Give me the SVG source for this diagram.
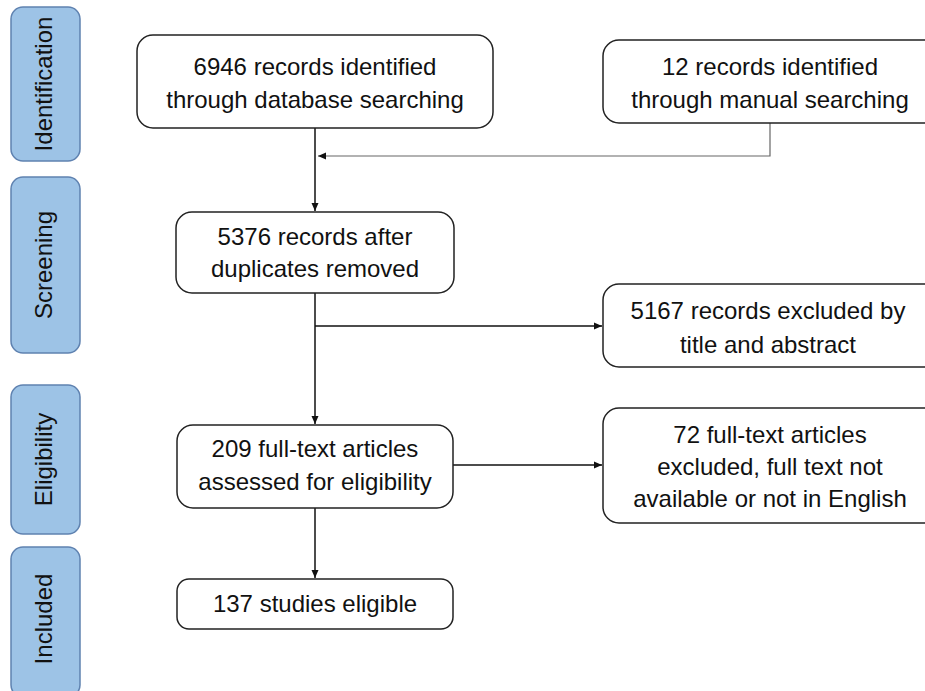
<svg xmlns="http://www.w3.org/2000/svg" width="925" height="691" viewBox="0 0 925 691">
<defs>
<style>
.stage rect{fill:#9DC3E6;stroke:#5F82B0;stroke-width:1.5}
.stage text{font-family:"Liberation Sans",Arial,sans-serif;font-size:24px;fill:#111;text-anchor:middle}
.node rect{fill:#fff;stroke:#222;stroke-width:1.5}
.node text{font-family:"Liberation Sans",Arial,sans-serif;font-size:24px;fill:#111;text-anchor:middle}
.conn path{fill:none;stroke:#111;stroke-width:1.5}
.conn path.grey{stroke:#666;stroke-width:1.2}
</style>
<marker id="ah" markerWidth="10" markerHeight="10" refX="9" refY="5" orient="auto" markerUnits="userSpaceOnUse">
<path d="M1,1.5 L9,5 L1,8.5 Z" fill="#111"/>
</marker>
</defs>
<rect width="925" height="691" fill="#fff"/>

<g id="stage-identification" class="stage">
<rect x="11" y="7" width="69" height="154" rx="12"/>
<text transform="translate(52,84) rotate(-90)">Identification</text>
</g>
<g id="stage-screening" class="stage">
<rect x="11" y="177" width="69" height="176" rx="12"/>
<text transform="translate(52,265) rotate(-90)">Screening</text>
</g>
<g id="stage-eligibility" class="stage">
<rect x="11" y="385" width="69" height="149" rx="12"/>
<text transform="translate(52,459.5) rotate(-90)">Eligibility</text>
</g>
<g id="stage-included" class="stage">
<rect x="11" y="547" width="69" height="150" rx="12"/>
<text transform="translate(52,619) rotate(-90)">Included</text>
</g>

<g id="connectors" class="conn">
<path d="M315,128 V211" marker-end="url(#ah)"/>
<path class="grey" d="M770,123 V156 H318" marker-end="url(#ah)"/>
<path d="M315,293 V424" marker-end="url(#ah)"/>
<path d="M315,326 H602" marker-end="url(#ah)"/>
<path d="M453,465 H602" marker-end="url(#ah)"/>
<path d="M315,508 V578" marker-end="url(#ah)"/>
</g>

<g id="n-database" class="node">
<rect x="137" y="35" width="356" height="93" rx="16"/>
<text x="315" y="75">6946 records identified</text>
<text x="315" y="108">through database searching</text>
</g>
<g id="n-manual" class="node">
<rect x="603" y="40" width="340" height="83" rx="16"/>
<text x="770" y="75">12 records identified</text>
<text x="770" y="108">through manual searching</text>
</g>
<g id="n-duplicates" class="node">
<rect x="176" y="212" width="278" height="81" rx="16"/>
<text x="315" y="245">5376 records after</text>
<text x="315" y="277">duplicates removed</text>
</g>
<g id="n-excluded-title" class="node">
<rect x="603" y="284" width="340" height="83" rx="16"/>
<text x="768" y="319">5167 records excluded by</text>
<text x="768" y="353">title and abstract</text>
</g>
<g id="n-fulltext" class="node">
<rect x="177" y="425" width="276" height="83" rx="16"/>
<text x="315" y="457">209 full-text articles</text>
<text x="315" y="490">assessed for eligibility</text>
</g>
<g id="n-excluded-fulltext" class="node">
<rect x="603" y="408" width="340" height="115" rx="16"/>
<text x="770" y="443">72 full-text articles</text>
<text x="770" y="475">excluded, full text not</text>
<text x="770" y="507">available or not in English</text>
</g>
<g id="n-included" class="node">
<rect x="177" y="579" width="276" height="50" rx="12"/>
<text x="315" y="612">137 studies eligible</text>
</g>
</svg>
